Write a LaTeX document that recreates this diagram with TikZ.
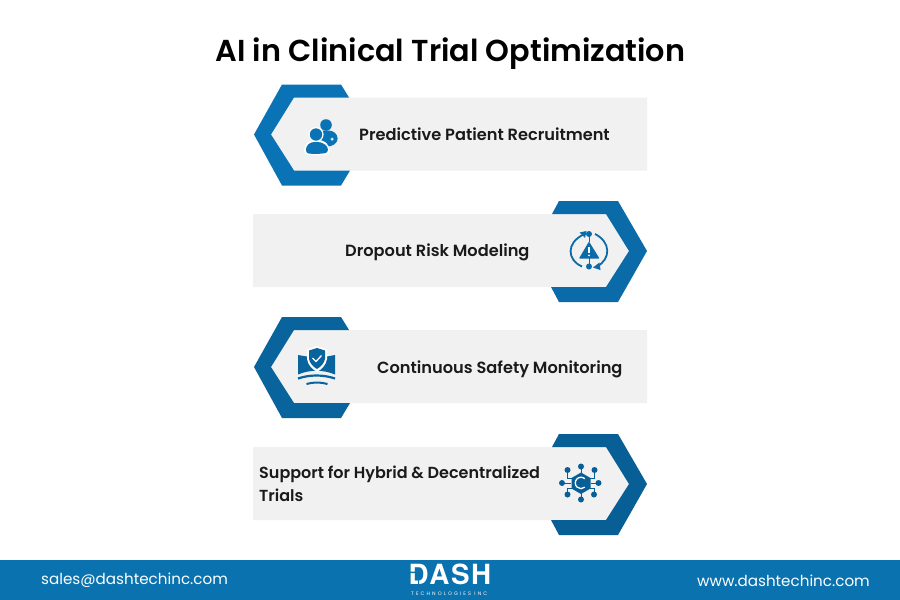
\documentclass[tikz,border=0pt]{standalone}
\usepackage{fontspec}
\setmainfont{Poppins}[BoldFont={Poppins SemiBold}]
\newfontfamily\logofont{TeX Gyre Heros}[BoldFont=*-Bold,LetterSpace=6]
\newfontfamily\subfont{Poppins}[LetterSpace=42]
\definecolor{cA}{HTML}{0A73B5}
\definecolor{cB}{HTML}{0A6BA8}
\definecolor{cC}{HTML}{09649E}
\definecolor{cD}{HTML}{085F96}
\definecolor{band}{HTML}{0A72AE}
\definecolor{pale}{HTML}{F1F1F1}
\definecolor{ink}{HTML}{1A1A1A}
\tikzset{
  lab/.style={font=\fontsize{16.2}{23}\selectfont\bfseries, text=ink, inner sep=0pt, align=left},
  foot/.style={font=\fontsize{15.15}{18}\selectfont, text=white, inner sep=0pt},
}
\newcommand{\rowL}[2]{% y centre, colour
  \fill[pale] (271,#1) -- (294,#1-37) -- (647,#1-37) -- (647,#1+36) -- (294,#1+36) -- cycle;
  \fill[#2] (254,#1) -- (282,#1-50) -- (341,#1-50) -- (349,#1-37) -- (294,#1-37) -- (271,#1) -- (294,#1+36) -- (350,#1+36) -- (341,#1+51) -- (282,#1+51) -- cycle;
}
\newcommand{\rowR}[2]{%
  \fill[pale] (629,#1) -- (606,#1-37) -- (253,#1-37) -- (253,#1+36) -- (606,#1+36) -- cycle;
  \fill[#2] (647,#1) -- (618,#1-50) -- (559,#1-50) -- (552,#1-37) -- (606,#1-37) -- (629,#1) -- (606,#1+36) -- (551,#1+36) -- (559,#1+51) -- (618,#1+51) -- cycle;
}
\begin{document}
\begin{tikzpicture}[x=1pt,y=-1pt]
\useasboundingbox (0,0) rectangle (900,600);
\fill[white] (0,0) rectangle (900,600);
\node[inner sep=0pt,text=black,font=\fontsize{30.3}{36}\selectfont\bfseries] (title) at (450.5,54) {AI in Clinical Trial Optimization};

% rows
\rowL{134.5}{cA}
\rowR{251}{cB}
\rowL{367}{cC}
\rowR{484}{cD}

\node[lab,anchor=west] (r1) at (359,134.5) {Predictive Patient Recruitment};
\node[lab,anchor=west] (r2) at (345,252) {Dropout Risk Modeling};
\node[lab,anchor=west] (r3) at (377,369) {Continuous Safety Monitoring};
\node[lab,anchor=west,font=\fontsize{16}{23}\selectfont\bfseries] (r4) at (259,483.5) {Support for Hybrid \& Decentralized\\Trials};

% icon 1: people
\fill[cA] (326,125) circle (5.8);
\fill[cA,rounded corners=3pt] (320,130.5) -- (332,130.5) -- (337.5,135) -- (337.5,142) -- (331,146.5) -- (322,146.5) -- cycle;
\fill[white] (316,134.5) circle (7.6);
\fill[white,rounded corners=4pt] (304,155) -- (304,146) -- (310,140) -- (323,140) -- (329.5,146) -- (329.5,155) -- cycle;
\fill[cA] (316,134.5) circle (6.2);
\fill[cA,rounded corners=3pt] (306,153.5) -- (306,146.5) -- (311,142) -- (321,142) -- (327.9,146.5) -- (327.9,153) -- (317,154) -- cycle;
\fill[white] (330.6,138.7) rectangle (333.6,139.7) (331.6,137.7) rectangle (332.6,140.7);

% icon 2: risk cycle
\draw[cB,line width=1.8pt] (583.5,234.5) .. controls (566,243) and (567,260) .. (582,266.5);
\draw[cB,line width=1.8pt] (595,234) .. controls (611,242) and (611,259) .. (597,266.5);
\fill[cB] (579.5,232.5) -- (586.5,231) -- (585,238) -- cycle;
\fill[cB] (593,267.5) -- (599.5,262.5) -- (600.5,270) -- cycle;
\fill[cB] (589,234) circle (3);
\fill[cB] (589,266.5) circle (3);
\draw[cB,line width=1pt] (589,236) -- (589,242) (589,258) -- (589,264);
\fill[cB,rounded corners=0.7pt] (589,241.5) -- (599.5,258.5) -- (579,258.5) -- cycle;
\fill[white] (588.2,247) rectangle (589.8,253.2);
\fill[white] (589,255.4) circle (1);

% icon 3: monitor and shield
\fill[cC] (298,355) -- (307,356.5) -- (327,356.5) -- (335,355) -- (335,374.5) .. controls (323,369.5) and (310,369.5) .. (298,374.5) -- cycle;
\fill[white] (317,346) -- (327,349.5) -- (327,359) .. controls (326,365) and (322,369) .. (317,372) .. controls (312,369) and (308,365) .. (307,359) -- (307,349.5) -- cycle;
\fill[cC] (317,348) -- (325,350.5) -- (325,359) .. controls (324,363.5) and (321,366.5) .. (317,369) .. controls (313,366.5) and (310,363.5) .. (309,359) -- (309,350.5) -- cycle;
\draw[white,line width=1.3pt] (312.5,358) -- (316,361.5) -- (321.5,355.5);
\draw[cC,line width=2.2pt] (298,378.5) .. controls (310,374.5) and (323,374.5) .. (335,378.5);
\draw[cC,line width=2pt] (306.5,384) .. controls (313,382) and (321,382) .. (327.5,384);

% icon 4: network hexagon
\foreach \nx/\ny/\lx/\ly in {581/466.5/581/474, 581/499.5/581/492, 562/483/571/483, 598.5/483/591/483}{
  \draw[cD,line width=1pt] (\nx,\ny) -- (\lx,\ly);
  \fill[cD] (\nx,\ny) circle (3);
}
\foreach \nx/\ny/\mx/\my/\lx/\ly in {567.5/470/567.5/478/573/478, 594.5/470/594.5/478/589/478, 567.5/494.5/567.5/488/573/488, 594/494.5/594/488/589/488}{
  \draw[cD,line width=1pt] (\nx,\ny) -- (\mx,\my) -- (\lx,\ly);
  \fill[cD] (\nx,\ny) circle (3);
}
\fill[cD] (581,472.5) -- (590.5,478) -- (590.5,488.5) -- (581,494) -- (571.5,488.5) -- (571.5,478) -- cycle;
\draw[white,line width=1.3pt] (584.8,478.7) arc (-48:-312:5.7);

% footer
\fill[band] (0,560) rectangle (900,600);
\node[foot,anchor=west] (mail) at (41,580.5) {sales@dashtechinc.com};
\node[foot,anchor=east] (web) at (870,580.5) {www.dashtechinc.com};
\node[inner sep=0pt,text=white,font=\fontsize{27.8}{28}\selectfont\logofont\bfseries,anchor=base west,text height=19pt,text depth=0pt] (logo) at (408.3,584.5) {DASH};
\fill[band] (409,571.6) rectangle (423,573) (418,573) rectangle (419.2,586);
\node[inner sep=0pt,text=white,font=\fontsize{5}{5}\selectfont\subfont,anchor=base west,text height=4pt,text depth=0pt] (sub) at (411,595) {TECHNOLOGIES INC};
\end{tikzpicture}
\end{document}
